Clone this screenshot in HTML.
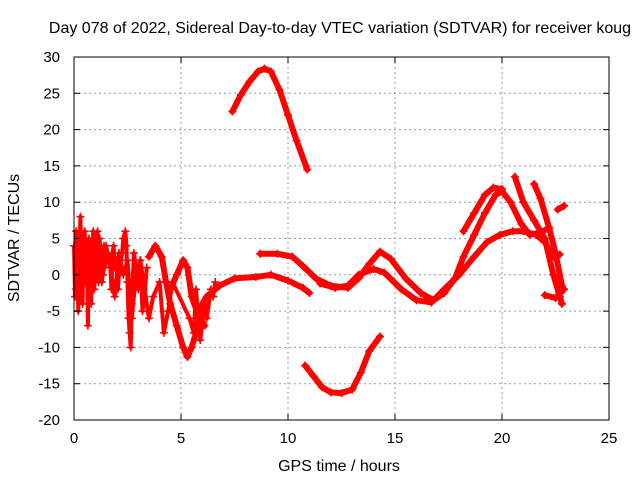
<!DOCTYPE html>
<html><head><meta charset="utf-8"><style>
body{margin:0;background:#fff;}
svg text{font-family:"Liberation Sans",sans-serif;font-size:15px;fill:#000;}
svg text.big{font-size:16px;}
</style></head><body>
<svg id="chart" width="640" height="480" xmlns="http://www.w3.org/2000/svg">
<rect x="0" y="0" width="640" height="480" fill="#fff"/>
<g id="grid"></g>
<g id="series"></g>
<rect x="74" y="57" width="535" height="363" fill="none" stroke="#000" stroke-width="1"/>
<g id="ticks"></g>
<text class="big" x="340" y="33" text-anchor="middle">Day 078 of 2022, Sidereal Day-to-day VTEC variation (SDTVAR) for receiver koug</text>
<text class="big" x="339" y="471" text-anchor="middle">GPS time / hours</text>
<text class="big" transform="translate(19,238) rotate(-90)" text-anchor="middle">SDTVAR / TECUs</text>
</svg>
<script>
const xTicks=[0,5,10,15,20,25];
const yTicks=[-20,-15,-10,-5,0,5,10,15,20,25,30];
const trackA=[[7.4,22.5],[7.8,24.8],[8.2,26.6],[8.6,28],[8.9,28.4],[9.2,28],[9.6,25.5],[10.0,22],[10.4,18.5],[10.9,14.5]];
const trackB=[[10.8,-12.5],[11.2,-14],[11.6,-15.5],[12.0,-16.2],[12.5,-16.3],[13.0,-15.8],[13.4,-13.5],[13.8,-10.5],[14.3,-8.5]];
const trackC=[[8.7,2.9],[9.5,2.9],[10.2,2.5],[10.7,1.2],[11.3,-0.5],[12,-1.5],[12.8,-1.8],[13.3,-0.5],[13.8,1.5],[14.3,3.2],[14.8,2.2],[15.5,-0.5],[16.2,-2.5],[16.8,-3.5],[17.3,-2.5],[17.8,-0.5],[18.2,2.5],[18.7,5.5],[19.2,8.5],[19.7,11],[20.0,11.5],[20.4,10],[20.9,7],[21.3,5.5],[21.8,5.8],[22.2,6.5]];
const trackD=[[5.8,-5],[6.2,-3],[6.8,-1.5],[7.5,-0.5],[8.5,-0.3],[9.2,0],[10.0,-0.8],[10.7,-1.8],[11.0,-2.5]];
const trackE=[[11.5,-1.2],[12.2,-1.8],[12.8,-1.5],[13.3,0],[14.0,0.8],[14.5,0.3],[15.3,-2],[16.0,-3.5],[16.7,-3.8],[17.3,-2],[18.0,0],[18.7,2.5],[19.3,4.5],[19.9,5.5],[20.5,6],[21.0,6],[21.6,5.5],[22.0,4.5],[22.4,2.5],[22.7,2.8]];
const trackF=[[18.2,6],[18.7,8.5],[19.2,11],[19.6,12],[20.0,11.8]];
const trackG=[[20.6,13.5],[21.0,10],[21.5,7.5],[22.0,5],[22.4,0],[22.7,-3],[22.8,-4]];
const trackH=[[21.5,12.5],[21.8,10.5],[22.2,6.5],[22.5,3],[22.8,-1.5]];
const trackI=[[22.0,-2.8],[22.5,-3.2],[22.9,-2]];
const trackJ=[[22.6,9],[22.9,9.5]];
const trackK=[[3.5,2.5],[3.8,4],[4.1,2.5],[4.3,-1],[4.5,-4],[4.8,-7],[5.1,-10],[5.3,-11.3],[5.5,-10],[5.8,-7],[6.0,-5]];
const trackL=[[4.5,-2],[4.8,0],[5.1,2],[5.3,1],[5.5,-3],[5.8,-5.5],[6.1,-7]];
const noiseT=[0,0.05,0.1,0.15,0.2,0.25,0.3,0.35,0.4,0.45,0.5,0.55,0.6,0.65,0.7,0.75,0.8,0.85,0.9,0.95,1.0,1.05,1.1,1.15,1.2,1.25,1.3,1.35,1.4,1.45,1.5,1.6,1.7,1.75,1.8,1.85,1.9,2.0,2.05,2.1,2.2,2.25,2.3,2.4,2.45,2.5,2.55,2.6,2.65,2.7,2.8,2.9,3.0,3.1,3.2,3.3,3.4];
const noiseV=[4,-3,6,2,-5,3,8,1,-4,4,6,-1,3,-7,5,1,-4,2,6,-2,3,0,4,-1,5,2,3,0,4,1,2,3,1,-2,3,4,1,2,-2,0,2,3,5,6,4,-1,-6,-8,-10,-4,3,1,-2,2,-5,-3,1];
const noise2T=[0.1,0.3,0.5,0.7,0.9,1.1,1.3,1.5,1.7,1.9,2.1,2.3,2.5,2.7,2.9,3.1,3.5,3.7,4.0,4.2,4.4,4.6,5.4,5.6,5.7,5.9,6.1,6.2,6.4,6.5,6.6];
const noise2V=[-2,5,2,0,3,6,-1,4,1,-3,3,0,2,-6,0,2,-6,-3,-1,-8,-5,-1,-6,-8,-2,-9,-4,-6,-2,-3,-1];
const X0=74,X1=609,Y0=420,Y1=57;
const sx=t=>X0+(t-0)/(25-0)*(X1-X0);
const sy=v=>Y0-(v-(-20))/(30-(-20))*(Y0-Y1);
const NS='http://www.w3.org/2000/svg';
const grid=document.getElementById('grid'),ticks=document.getElementById('ticks'),ser=document.getElementById('series');
function mk(tag,p,parent){const e=document.createElementNS(NS,tag);for(const k in p)e.setAttribute(k,p[k]);parent.appendChild(e);return e;}
xTicks.forEach(t=>{
 if(t>0&&t<25){const g=mk('line',{x1:sx(t),x2:sx(t),y1:Y1,y2:Y0,stroke:'#999','stroke-dasharray':'2,3'},grid);
 
 }
 const a=mk('line',{x1:sx(t),x2:sx(t),y1:Y0,y2:Y0-6,stroke:'#000'},ticks);
 
 
 const b=mk('line',{x1:sx(t),x2:sx(t),y1:Y1,y2:Y1+6,stroke:'#000'},ticks);
 
 
 const l=mk('text',{x:sx(t),y:Y0+23,'text-anchor':'middle'},ticks);l.textContent=t;
 
 
});
yTicks.forEach(v=>{
 if(v>-20&&v<30){const g=mk('line',{x1:X0,x2:X1,y1:sy(v),y2:sy(v),stroke:'#999','stroke-dasharray':'2,3'},grid);
 
 }
 const a=mk('line',{x1:X0,x2:X0+6,y1:sy(v),y2:sy(v),stroke:'#000'},ticks);
 
 
 const b=mk('line',{x1:X1,x2:X1-6,y1:sy(v),y2:sy(v),stroke:'#000'},ticks);
 
 
 const l=mk('text',{x:X0-14,y:sy(v)+5,'text-anchor':'end'},ticks);l.textContent=v;
 
 
});
function plus(t,v){
 const x=sx(t),y=sy(v);
 const p=mk('path',{d:`M${x-4},${y}H${x+4}M${x},${y-4}V${y+4}`,stroke:'#f00','stroke-width':1.6,fill:'none'},ser);
 
 
}
[trackA,trackB,trackC,trackD,trackE,trackF,trackG,trackH,trackI,trackJ,trackK,trackL].forEach(tr=>{
 const pl=mk('polyline',{points:tr.map(p=>sx(p[0])+','+sy(p[1])).join(' '),fill:'none',stroke:'#f00','stroke-width':6,'stroke-linejoin':'round','stroke-linecap':'round'},ser);
 
 
 tr.forEach(p=>plus(p[0],p[1]));
});
[[noiseT,noiseV],[noise2T,noise2V]].forEach(([T,V])=>{
 const np=mk('polyline',{points:T.map((t,i)=>sx(t)+','+sy(V[i])).join(' '),fill:'none',stroke:'#f00','stroke-width':4,'stroke-linejoin':'round'},ser);
 
 
 T.forEach((t,i)=>plus(t,V[i]));
});
</script>
</body></html>
